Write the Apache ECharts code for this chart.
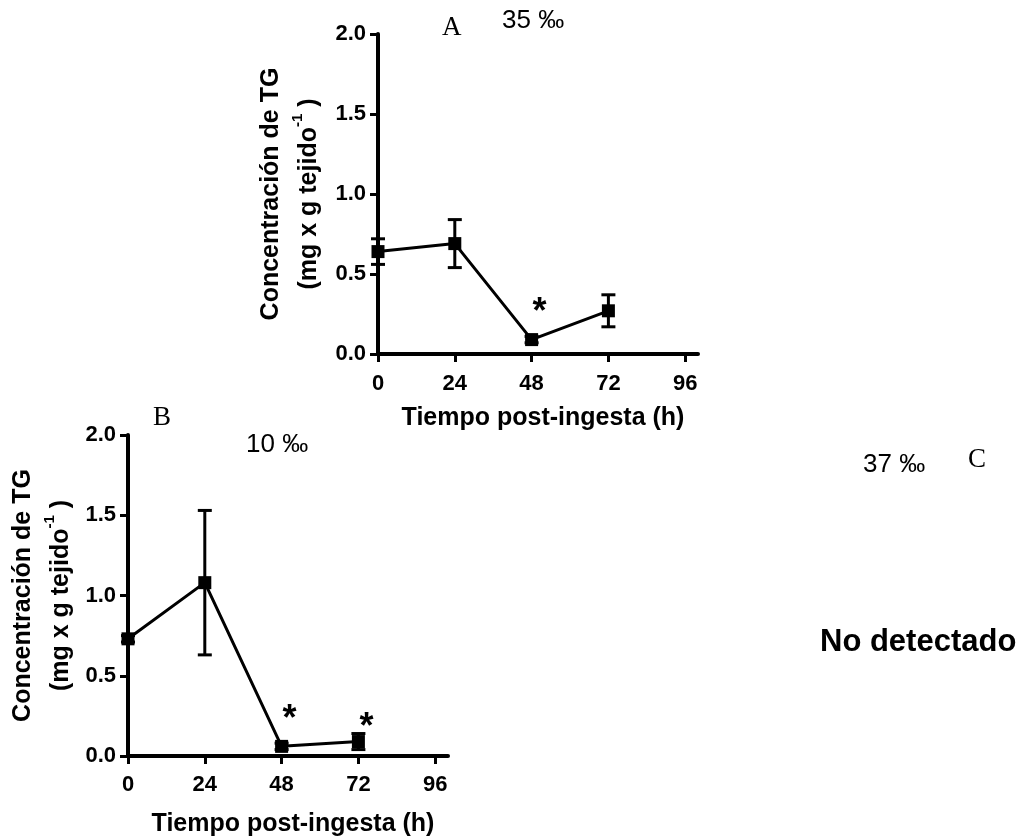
<!DOCTYPE html>
<html>
<head>
<meta charset="utf-8">
<script src="https://cdn.jsdelivr.net/npm/echarts@6/dist/echarts.min.js"></script>
<style>
html,body{margin:0;padding:0;background:#fff;}
#c{width:1020px;height:838px;}
</style>
</head>
<body>
<div id="c"></div>
<script>
// ---- data ----
const hours = [0, 24, 48, 72];
const xTicks = [0, 24, 48, 72, 96];
const meanA = [0.64, 0.69, 0.09, 0.27];
const errA  = [0.08, 0.15, 0.02, 0.10];
const sigA  = [false, false, true, false];
const meanB = [0.73, 1.08, 0.06, 0.09];
const errB  = [0.02, 0.45, 0.02, 0.05];
const sigB  = [false, false, true, true];
const yName = 'Concentración de TG';
const yUnit = '(mg x g tejido';
const xName = 'Tiempo post-ingesta (h)';

const SANS = '"Liberation Sans", Arial, sans-serif';
const SERIF = '"Liberation Serif", "Times New Roman", serif';

function xAxisCfg(idx, gap, margin) {
  return {
    type: 'value', gridIndex: idx, min: 0, max: 100,
    axisLine: {show: true, lineStyle: {color: '#000', width: 4}},
    axisTick: {show: true, length: 8, lineStyle: {color: '#000', width: 3}, customValues: xTicks},
    axisLabel: {show: true, customValues: xTicks, color: '#000', fontSize: 22, fontWeight: 'bold', fontFamily: SANS, margin: margin},
    splitLine: {show: false},
    name: xName, nameLocation: 'middle', nameGap: gap,
    nameTextStyle: {color: '#000', fontSize: 25, fontWeight: 'bold', fontFamily: SANS, padding: [0, 0, 0, 10]}
  };
}
function yAxisCfg(idx, gap) {
  return {
    type: 'value', gridIndex: idx, min: 0, max: 2, interval: 0.5,
    axisLine: {show: true, lineStyle: {color: '#000', width: 4}},
    axisTick: {show: true, length: 8, lineStyle: {color: '#000', width: 3}},
    axisLabel: {color: '#000', fontSize: 22, fontWeight: 'bold', fontFamily: SANS, margin: 12,
      formatter: v => v.toFixed(1)},
    splitLine: {show: false},
    name: '{a|' + yName + '}\n{a|' + yUnit + '}{s|-1}{a| )}',
    nameLocation: 'middle', nameGap: gap,
    nameTextStyle: {
      color: '#000', fontSize: 25, fontWeight: 'bold', fontFamily: SANS,
      rich: {
        a: {color: '#000', fontSize: 25, fontWeight: 'bold', fontFamily: SANS, lineHeight: 38},
        s: {color: '#000', fontSize: 15, fontWeight: 'bold', fontFamily: SANS, verticalAlign: 'top'}
      }
    }
  };
}
function lineSeries(idx, means, sig, offsets) {
  return {
    type: 'line', xAxisIndex: idx, yAxisIndex: idx, z: 3,
    symbol: 'rect', symbolSize: 13,
    lineStyle: {color: '#000', width: 3}, itemStyle: {color: '#000'},
    data: hours.map((h, i) => {
      const d = {value: [h, means[i]]};
      if (sig[i]) {
        d.label = {show: true, position: 'inside', formatter: '*', offset: offsets[i],
          color: '#000', fontSize: 36, fontWeight: 'bold', fontFamily: SANS};
      }
      return d;
    }),
    animation: false
  };
}
function errSeries(idx, means, errs) {
  return {
    type: 'custom', xAxisIndex: idx, yAxisIndex: idx, z: 2,
    data: hours.map((h, i) => [h, means[i], errs[i]]),
    renderItem: function (params, api) {
      const x = api.value(0), y = api.value(1), e = api.value(2);
      const top = api.coord([x, y + e]);
      const bot = api.coord([x, y - e]);
      const hw = 7;
      const st = {stroke: '#000', lineWidth: 3};
      return {type: 'group', children: [
        {type: 'line', shape: {x1: top[0], y1: top[1], x2: bot[0], y2: bot[1]}, style: st},
        {type: 'line', shape: {x1: top[0] - hw, y1: top[1], x2: top[0] + hw, y2: top[1]}, style: st},
        {type: 'line', shape: {x1: bot[0] - hw, y1: bot[1], x2: bot[0] + hw, y2: bot[1]}, style: st}
      ]};
    },
    animation: false
  };
}

const chart = echarts.init(document.getElementById('c'), null, {renderer: 'canvas'});
chart.setOption({
  backgroundColor: '#fff',
  animation: false,
  grid: [
    {left: 378, top: 34, width: 320, height: 320, outerBoundsMode: 'none'},
    {left: 128, top: 435, width: 320, height: 321, outerBoundsMode: 'none'}
  ],
  xAxis: [xAxisCfg(0, 52, 19), xAxisCfg(1, 56, 18)],
  yAxis: [yAxisCfg(0, 50), yAxisCfg(1, 48)],
  series: [
    errSeries(0, meanA, errA),
    lineSeries(0, meanA, sigA, [null, null, [8, -27], null]),
    errSeries(1, meanB, errB),
    lineSeries(1, meanB, sigB, [null, null, [8, -26], [8, -13]])
  ],
  graphic: [
    {type: 'text', left: 442, top: 14, style: {text: 'A', font: '27px ' + SERIF, fill: '#000'}},
    {type: 'text', left: 502, top: 8, style: {text: '35 ‰', font: '26px ' + SANS, fill: '#000'}},
    {type: 'text', left: 153, top: 404, style: {text: 'B', font: '27px ' + SERIF, fill: '#000'}},
    {type: 'text', left: 246, top: 432, style: {text: '10 ‰', font: '26px ' + SANS, fill: '#000'}},
    {type: 'text', left: 863, top: 452, style: {text: '37 ‰', font: '26px ' + SANS, fill: '#000'}},
    {type: 'text', left: 968, top: 446, style: {text: 'C', font: '27px ' + SERIF, fill: '#000'}},
    {type: 'text', left: 820, top: 627, style: {text: 'No detectado', font: 'bold 31px ' + SANS, fill: '#000'}}
  ]
});
</script>
</body>
</html>
